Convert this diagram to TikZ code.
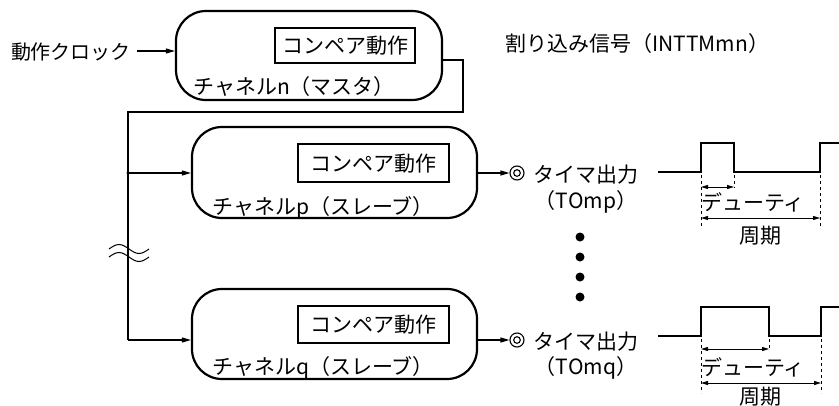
\documentclass[tikz,border=0pt]{standalone}
\usepackage{fontspec}
\setmainfont{Noto Sans CJK JP}
\usetikzlibrary{arrows.meta}
\begin{document}
\begin{tikzpicture}[x=1pt,y=-1pt,
  every node/.style={font=\fontsize{21}{24}\selectfont, inner sep=0pt, text height=17.5pt, text depth=1.5pt},
  chbox/.style={draw, line width=2.2pt, rounded corners=30pt, text height=, text depth=},
  cmpbox/.style={draw, line width=1.8pt, text height=, text depth=},
  conn/.style={line width=1.1pt},
  arr/.style={conn, -{Triangle[length=9pt,width=5pt]}},
  darr/.style={line width=0.9pt, {Triangle[length=7pt,width=4pt]}-{Triangle[length=7pt,width=4pt]}},
  wave/.style={line width=1.9pt},
  dsh/.style={line width=0.9pt, dash pattern=on 3pt off 3pt},
  outc/.style={circle, draw, line width=1.1pt, minimum size=14pt, text height=, text depth=},
  bullet/.style={circle, fill, minimum size=9pt, text height=, text depth=}
]
\useasboundingbox (0,0) rectangle (839,405);

% channel boxes
\node[chbox, minimum width=266pt, minimum height=89pt] (m) at (309,55.5) {};
\node[chbox, minimum width=285pt, minimum height=91pt] (p) at (334.5,172.5) {};
\node[chbox, minimum width=285pt, minimum height=90pt] (q) at (334.5,334) {};

% compare boxes
\node[cmpbox, minimum width=140pt, minimum height=35pt] (mc) at (345,45.5) {};
\node[cmpbox, minimum width=151pt, minimum height=38pt] (pc) at (373.5,163) {};
\node[cmpbox, minimum width=151pt, minimum height=37pt] (qc) at (373.5,324.5) {};
\node (mct) at (mc.center) {コンペア動作};
\node (pct) at (pc.center) {コンペア動作};
\node (qct) at (qc.center) {コンペア動作};

% channel labels
\node (ml) at (294,86) {チャネルn（マスタ）};
\node (pl) at (323,206) {チャネルp（スレーブ）};
\node (ql) at (323,366.5) {チャネルq（スレーブ）};

% clock
\node[font=\fontsize{20}{23}\selectfont, text height=17pt] (clk) at (71,51.5) {動作クロック};
\coordinate (ck) at (137,51);
\draw[arr] (ck) -- (m.west |- ck);

% interrupt
\node[anchor=west] (int) at (505,43) {割り込み信号（INTTMmn）};
\coordinate (c1) at (463,60);
\coordinate (c2) at (463,112);
\coordinate (c3) at (128,112);
\coordinate (jp) at (128,173);
\coordinate (jq) at (128,340);
\draw[conn] (m.east |- c1) -- (c1) -- (c2) -- (c3) -- (jq);
\draw[arr] (jq) -- (q.west |- jq);
\draw[arr] (jp) -- (p.west |- jp);
\fill (jp) circle (1.6pt);

% break mark
\draw[line width=1pt] (109,249) sin (119,244.5) cos (129,249) sin (139,253.5) cos (149,249);
\draw[line width=1pt] (109,257) sin (119,252.5) cos (129,257) sin (139,261.5) cos (149,257);

% outputs
\node[outc] (op) at (517,173) {};
\draw[line width=1.1pt] (op.center) circle (3.3pt);
\draw[arr] (p.east |- op) -- (op.west);
\node[outc] (oq) at (517,340) {};
\draw[line width=1.1pt] (oq.center) circle (3.3pt);
\draw[arr] (q.east |- oq) -- (oq.west);

\node (tp1) at (586,174) {タイマ出力};
\node (tp2) at (586,200) {（TOmp）};
\node (tq1) at (586,341) {タイマ出力};
\node (tq2) at (586,366) {（TOmq）};

% dots
\node[bullet] (d1) at (580,237) {};
\node[bullet] (d2) at (580,257) {};
\node[bullet] (d3) at (580,277) {};
\node[bullet] (d4) at (580,297) {};

% waveform p
\draw[wave] (658,172) -- (701,172) -- (701,143) -- (734,143) -- (734,172) -- (820,172) -- (820,143) -- (840,143);
\draw[dsh] (701,175) -- (701,228);
\draw[dsh] (734,175) -- (734,188);
\draw[dsh] (820,175) -- (820,228);
\draw[darr] (701,187) -- (734,187);
\draw[darr] (701,218) -- (820,218);
\node[anchor=west] (dp) at (701,202) {デューティ};
\node (pp) at (760,235) {周期};

% waveform q
\draw[wave] (658,336) -- (701,336) -- (701,307) -- (769,307) -- (769,336) -- (821,336) -- (821,307) -- (840,307);
\draw[dsh] (701,339) -- (701,393);
\draw[dsh] (769,339) -- (769,350);
\draw[dsh] (821,339) -- (821,393);
\draw[darr] (701,349) -- (769,349);
\draw[darr] (701,383) -- (821,383);
\node[anchor=west] (dq) at (701,367) {デューティ};
\node (pq) at (760,396) {周期};
\end{tikzpicture}
\end{document}
